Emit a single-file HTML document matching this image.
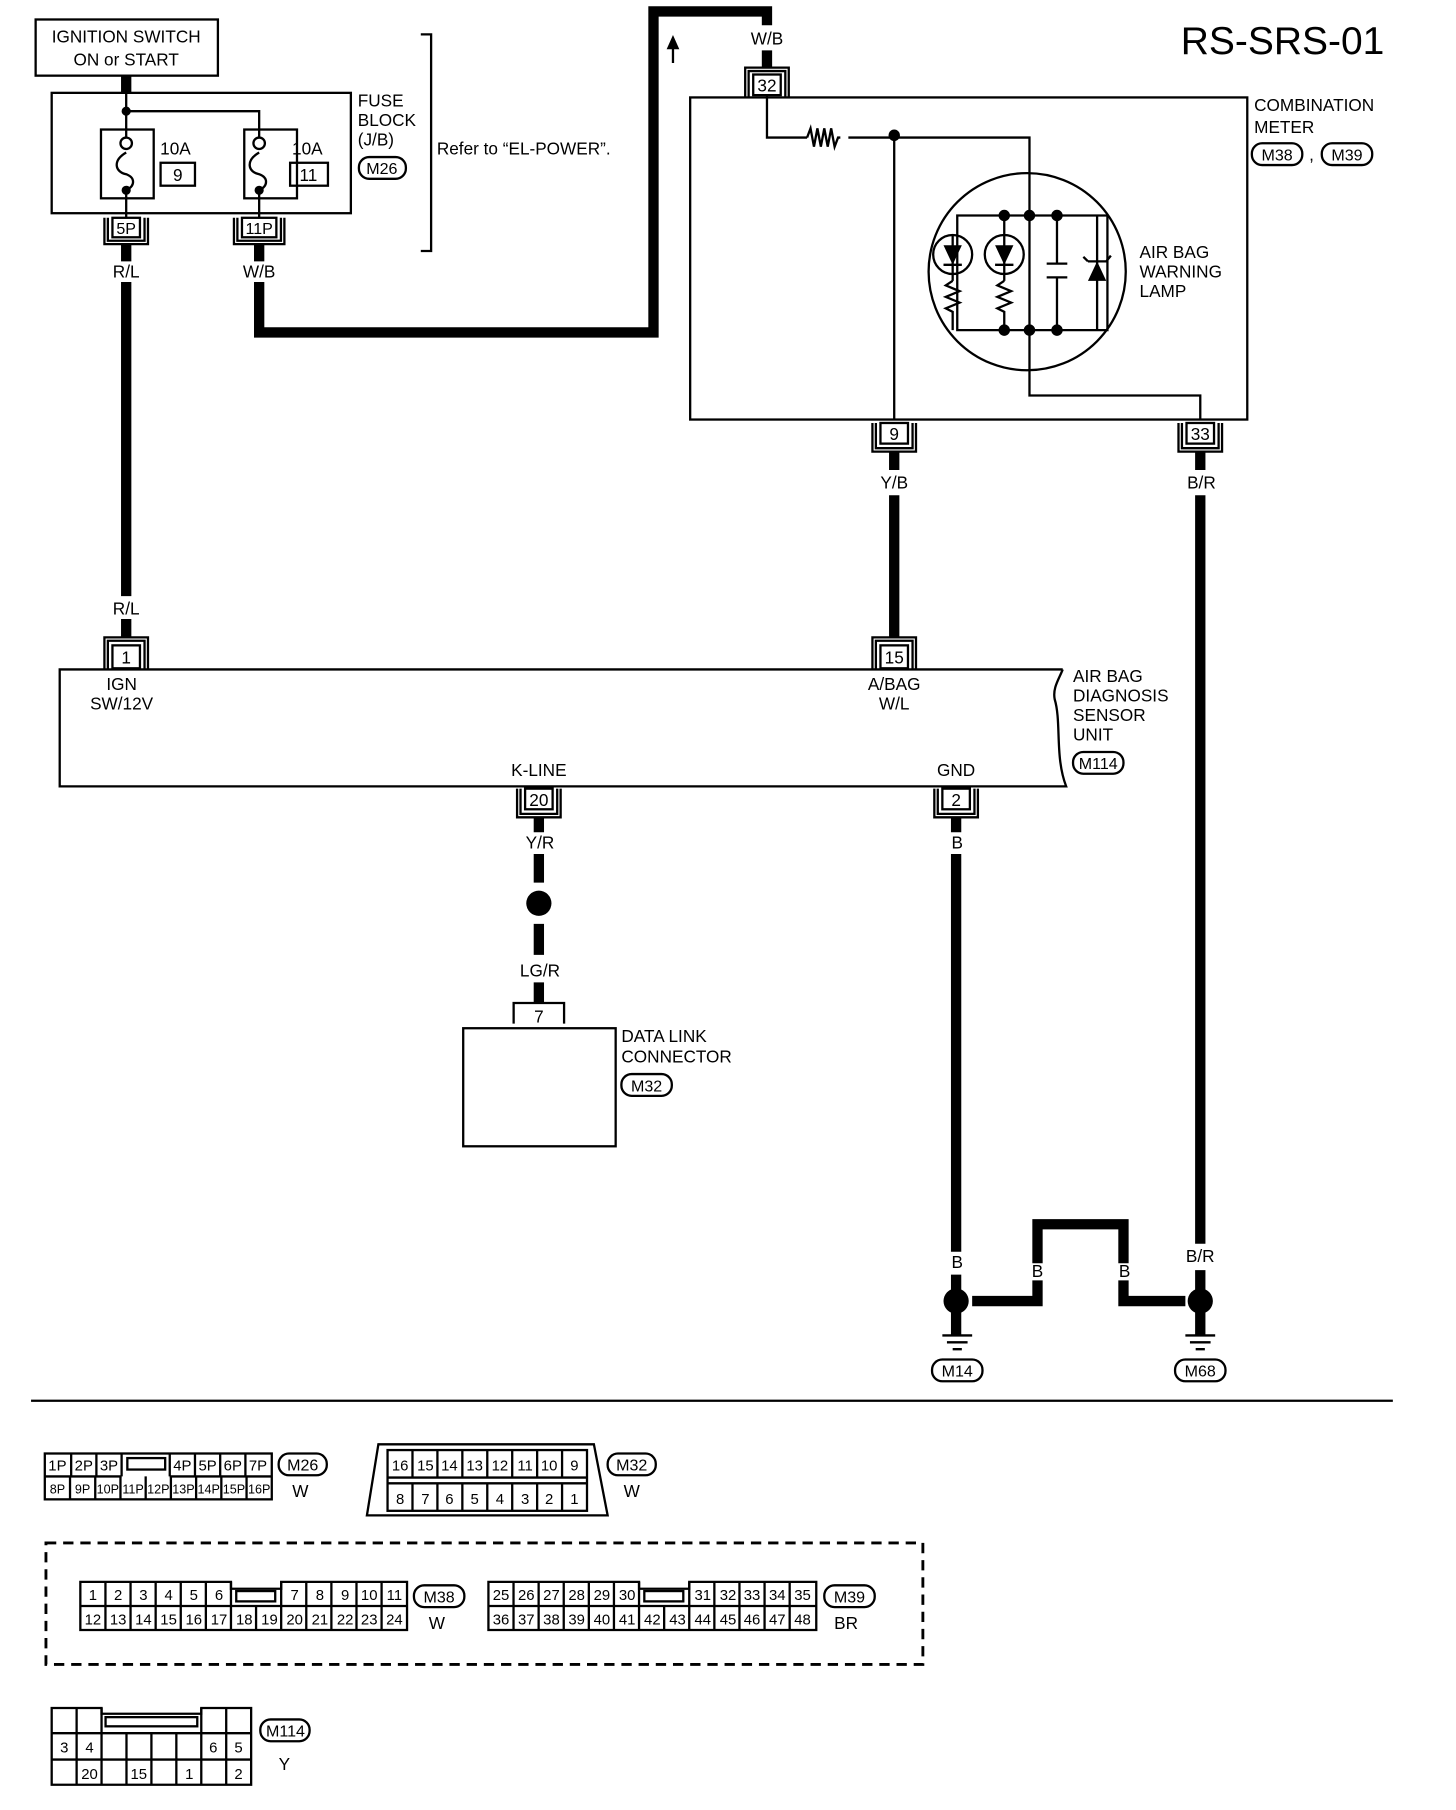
<!DOCTYPE html>
<html><head><meta charset="utf-8"><style>
html,body{margin:0;padding:0;background:#fff;}
svg{display:block;}
text{font-family:"Liberation Sans",sans-serif;fill:#000;}
</style></head><body>
<svg width="1456" height="1810" viewBox="0 0 1270 1579" xmlns="http://www.w3.org/2000/svg">
<g fill="none" stroke="#000" stroke-width="2">
<rect x="31" y="17" width="159" height="49"/>
<rect x="45" y="81" width="261" height="105"/>
<path d="M110 82 V113 M110 97 H226 V113"/>
<rect x="88" y="113" width="46" height="60"/>
<rect x="213" y="113" width="46" height="60"/>
<path d="M110 173 V190 M226 173 V190"/>
<path d="M110 113 V125 M110 133 C98 140 100 150 110 152 C118 155 118 162 110 166 V173"/>
<path d="M226 113 V125 M226 133 C214 140 216 150 226 152 C234 155 234 162 226 166 V173"/>
<rect x="140" y="142" width="30" height="20"/>
<rect x="253" y="142" width="33" height="20"/>
<path d="M367 30 H376 V219 H367"/>
<rect x="98" y="190" width="24" height="17"/>
<path d="M94 190 V210 H126 V190 M91 190 V213 H129 V190"/>
<rect x="211" y="190" width="30" height="17"/>
<path d="M207 190 V210 H245 V190 M204 190 V213 H248 V190"/>
<rect x="602" y="85" width="486" height="281"/>
<rect x="657" y="65" width="24" height="18"/>
<path d="M653 85 V62 H685 V85 M650 85 V59 H688 V85"/>
<path d="M669 83 V120 H704 M740 120 H898 V345 H1047 V366 M780 120 V366"/>
<path d="M704 120 l3 -8 l3 16 l3 -16 l3 16 l3 -16 l3 16 l3 -16 l3 16 l3 -8 l2 0" stroke-width="2"/>
<ellipse cx="896" cy="237" rx="86" ry="86"/>
<path d="M835 188 H966 V288 H835 Z M922 188 V230 M922 242 V288 M913 230 H931 M913 242 H931"/>
<circle cx="831" cy="222" r="17"/><circle cx="876" cy="222" r="17"/>
<path d="M831 205 V245 M876 188 V245 M823 231 H839 M868 231 H884"/>
<path d="M831 245 l-6 4 l12 5 l-12 5 l12 5 l-12 5 l6 3 V288 M876 245 l-6 4 l12 5 l-12 5 l12 5 l-12 5 l6 3 V288"/>
<path d="M957 188 V288 M949 228 l-4 -4 M949 228 H965 l4 -5"/>
<rect x="768" y="369" width="24" height="18"/>
<path d="M764 369 V391 H796 V369 M761 369 V394 H799 V369"/>
<rect x="1035" y="369" width="24" height="18"/>
<path d="M1031 369 V391 H1063 V369 M1028 369 V394 H1066 V369"/>
<path d="M927 584 H52 V686 H930 C920 660 926 630 920 610 C918 600 924 592 927 584"/>
<rect x="98" y="563" width="24" height="20"/>
<path d="M94 584 V559 H126 V584 M91 584 V556 H129 V584"/>
<rect x="768" y="563" width="24" height="20"/>
<path d="M764 584 V559 H796 V584 M761 584 V556 H799 V584"/>
<rect x="458" y="688" width="24" height="18"/>
<path d="M454 688 V710 H486 V688 M451 688 V713 H489 V688"/>
<rect x="822" y="688" width="24" height="18"/>
<path d="M818 688 V710 H850 V688 M815 688 V713 H853 V688"/>
<path d="M448 893 V875 H492 V893"/>
<rect x="404" y="897" width="133" height="103"/>
<path d="M822 1165 H848 M826 1171 H844 M831 1177 H839 M1034 1165 H1060 M1038 1171 H1056 M1043 1177 H1051"/>
<rect x="313" y="137" width="41" height="19" rx="9"/>
<rect x="1092" y="125" width="44" height="19" rx="9"/>
<rect x="1153" y="125" width="44" height="19" rx="9"/>
<rect x="936" y="656" width="44" height="19" rx="9"/>
<rect x="542" y="937" width="44" height="19" rx="9"/>
<rect x="813" y="1186" width="44" height="19" rx="9"/>
<rect x="1025" y="1186" width="44" height="19" rx="9"/>
<line x1="27" y1="1222" x2="1215" y2="1222"/>
</g>
<g fill="none" stroke="#000" stroke-width="9">
<path d="M110 66 V82"/>
<path d="M110 213 V228 M226 213 V228 M110 246 V520 M110 540 V556"/>
<path d="M226 246 V290 H570 V10 H669 V22 M669 44 V59"/>
<path d="M780 394 V410 M780 432 V556 M1047 394 V410 M1047 432 V1085"/>
<path d="M470 713 V726 M470 745 V770 M470 806 V833 M470 857 V875"/>
<path d="M834 713 V726 M834 745 V1092 M834 1112 V1125 M834 1145 V1165"/>
<path d="M848 1135 H905 V1117 M905 1102 V1068 H980 V1102 M980 1117 V1135 H1034"/>
<path d="M1047 1108 V1125 M1047 1145 V1165"/>
</g>
<g fill="#000" stroke="none">
<circle cx="110" cy="97" r="4"/><circle cx="110" cy="125" r="5" fill="#fff" stroke="#000" stroke-width="2"/><circle cx="110" cy="166" r="4"/>
<circle cx="226" cy="125" r="5" fill="#fff" stroke="#000" stroke-width="2"/><circle cx="226" cy="166" r="4"/>
<circle cx="780" cy="118" r="5"/>
<circle cx="876" cy="188" r="5"/><circle cx="898" cy="188" r="5"/><circle cx="922" cy="188" r="5"/>
<circle cx="876" cy="288" r="5"/><circle cx="898" cy="288" r="5"/><circle cx="922" cy="288" r="5"/>
<path d="M823 214 H839 L831 231 Z M868 214 H884 L876 231 Z M949 245 H965 L957 228 Z"/>
<circle cx="470" cy="788" r="11"/>
<circle cx="834" cy="1135" r="11"/><circle cx="1047" cy="1135" r="11"/>
<path d="M587 55 V42 M583 42 L587 33 L591 42 Z" stroke="#000" stroke-width="2"/>
</g>
<g font-size="15">
<text x="110" y="37" text-anchor="middle">IGNITION SWITCH</text>
<text x="110" y="57" text-anchor="middle">ON or START</text>
<text x="153" y="135" text-anchor="middle">10A</text>
<text x="155" y="158" text-anchor="middle">9</text>
<text x="268" y="135" text-anchor="middle">10A</text>
<text x="269" y="158" text-anchor="middle">11</text>
<text x="312" y="93">FUSE</text><text x="312" y="110">BLOCK</text><text x="312" y="127">(J/B)</text>
<text x="333" y="152" text-anchor="middle" font-size="14">M26</text>
<text x="381" y="135">Refer to “EL-POWER”.</text>
<text x="110" y="204" text-anchor="middle" font-size="14">5P</text>
<text x="226" y="204" text-anchor="middle" font-size="14">11P</text>
<text x="110" y="242" text-anchor="middle">R/L</text>
<text x="226" y="242" text-anchor="middle">W/B</text>
<text x="669" y="39" text-anchor="middle">W/B</text>
<text x="669" y="80" text-anchor="middle">32</text>
<text x="1030" y="47" font-size="34">RS-SRS-01</text>
<text x="1094" y="97">COMBINATION</text><text x="1094" y="116">METER</text>
<text x="1114" y="140" text-anchor="middle" font-size="14">M38</text>
<text x="1142" y="140">,</text>
<text x="1175" y="140" text-anchor="middle" font-size="14">M39</text>
<text x="994" y="225">AIR BAG</text><text x="994" y="242">WARNING</text><text x="994" y="259">LAMP</text>
<text x="780" y="384" text-anchor="middle">9</text>
<text x="1047" y="384" text-anchor="middle">33</text>
<text x="780" y="426" text-anchor="middle">Y/B</text>
<text x="1048" y="426" text-anchor="middle">B/R</text>
<text x="110" y="536" text-anchor="middle">R/L</text>
<text x="110" y="579" text-anchor="middle">1</text>
<text x="780" y="579" text-anchor="middle">15</text>
<text x="106" y="602" text-anchor="middle">IGN</text><text x="106" y="619" text-anchor="middle">SW/12V</text>
<text x="780" y="602" text-anchor="middle">A/BAG</text><text x="780" y="619" text-anchor="middle">W/L</text>
<text x="936" y="595">AIR BAG</text><text x="936" y="612">DIAGNOSIS</text><text x="936" y="629">SENSOR</text><text x="936" y="646">UNIT</text>
<text x="958" y="671" text-anchor="middle" font-size="14">M114</text>
<text x="470" y="677" text-anchor="middle">K-LINE</text>
<text x="834" y="677" text-anchor="middle">GND</text>
<text x="470" y="703" text-anchor="middle">20</text>
<text x="834" y="703" text-anchor="middle">2</text>
<text x="471" y="740" text-anchor="middle">Y/R</text>
<text x="835" y="740" text-anchor="middle">B</text>
<text x="471" y="852" text-anchor="middle">LG/R</text>
<text x="470" y="892" text-anchor="middle">7</text>
<text x="542" y="909">DATA LINK</text><text x="542" y="927">CONNECTOR</text>
<text x="564" y="952" text-anchor="middle" font-size="14">M32</text>
<text x="835" y="1106" text-anchor="middle">B</text>
<text x="905" y="1114" text-anchor="middle">B</text>
<text x="981" y="1114" text-anchor="middle">B</text>
<text x="1047" y="1101" text-anchor="middle">B/R</text>
<text x="835" y="1201" text-anchor="middle" font-size="14">M14</text>
<text x="1047" y="1201" text-anchor="middle" font-size="14">M68</text>
</g>
<g fill="none" stroke="#000" stroke-width="2">
<rect x="39" y="1268" width="198" height="40"/>
<path d="M39 1288 H106 M148 1288 H237 M62 1268 V1288 M84 1268 V1288 M106 1268 V1288 M148 1268 V1288 M170 1268 V1288 M192 1268 V1288 M214 1268 V1288"/>
<path d="M61 1288 V1308 M83 1288 V1308 M105 1288 V1308 M127 1288 V1308 M149 1288 V1308 M171 1288 V1308 M193 1288 V1308 M215 1288 V1308"/>
<rect x="111" y="1272" width="33" height="10"/>
<rect x="243" y="1268" width="42" height="19" rx="9"/>
<path d="M330 1260 H518 L530 1322 H320 Z"/>
<rect x="338" y="1265" width="174" height="53"/>
<path d="M338 1289 H512 M338 1294 H512"/>
<path d="M359.75 1265 V1289 M381.5 1265 V1289 M403.25 1265 V1289 M425 1265 V1289 M446.75 1265 V1289 M468.5 1265 V1289 M490.25 1265 V1289"/>
<path d="M359.75 1294 V1318 M381.5 1294 V1318 M403.25 1294 V1318 M425 1294 V1318 M446.75 1294 V1318 M468.5 1294 V1318 M490.25 1294 V1318"/>
<rect x="530" y="1268" width="42" height="19" rx="9"/>
<rect x="40" y="1346" width="765" height="106" stroke-dasharray="9 6" stroke-width="2.5"/>
<path d="M70 1380 H201.4 V1386 H245.2 V1380 H355 V1422 H70 Z M70 1401 H355"/>
<path d="M91.9 1380 V1422 M113.8 1380 V1422 M135.7 1380 V1422 M157.6 1380 V1422 M179.5 1380 V1422 M201.4 1380 V1422 M223.3 1401 V1422 M245.2 1380 V1422 M267.1 1380 V1422 M289 1380 V1422 M310.9 1380 V1422 M332.8 1380 V1422"/>
<rect x="206" y="1388" width="34" height="9"/>
<rect x="361" y="1383" width="44" height="19" rx="9"/>
<path d="M426 1380 H557.4 V1386 H601.2 V1380 H712 V1422 H426 Z M426 1401 H712"/>
<path d="M447.9 1380 V1422 M469.8 1380 V1422 M491.7 1380 V1422 M513.6 1380 V1422 M535.5 1380 V1422 M557.4 1380 V1422 M579.3 1401 V1422 M601.2 1380 V1422 M623.1 1380 V1422 M645 1380 V1422 M666.9 1380 V1422 M688.8 1380 V1422"/>
<rect x="562" y="1388" width="34" height="9"/>
<rect x="719" y="1383" width="44" height="19" rx="9"/>
<path d="M45 1490 H88.5 V1495 H175.5 V1490 H219 V1557 H45 Z M45 1512 H219 M45 1535 H219"/>
<path d="M66.75 1490 V1557 M88.5 1490 V1557 M110.25 1512 V1557 M132 1512 V1557 M153.75 1512 V1557 M175.5 1490 V1557 M197.25 1490 V1557"/>
<rect x="92" y="1498" width="80" height="8"/>
<rect x="227" y="1500" width="43" height="19" rx="9"/>
</g>
<g font-size="13" text-anchor="middle">
<text x="50" y="1283">1P</text><text x="73" y="1283">2P</text><text x="95" y="1283">3P</text><text x="159" y="1283">4P</text><text x="181" y="1283">5P</text><text x="203" y="1283">6P</text><text x="225" y="1283">7P</text>
<g font-size="11"><text x="50" y="1303">8P</text><text x="72" y="1303">9P</text><text x="94" y="1303">10P</text><text x="116" y="1303">11P</text><text x="138" y="1303">12P</text><text x="160" y="1303">13P</text><text x="182" y="1303">14P</text><text x="204" y="1303">15P</text><text x="226" y="1303">16P</text></g>
<text x="264" y="1283" font-size="14">M26</text><text x="262" y="1306" font-size="15">W</text>
<text x="349" y="1283">16</text><text x="371" y="1283">15</text><text x="392" y="1283">14</text><text x="414" y="1283">13</text><text x="436" y="1283">12</text><text x="458" y="1283">11</text><text x="479" y="1283">10</text><text x="501" y="1283">9</text>
<text x="349" y="1312">8</text><text x="371" y="1312">7</text><text x="392" y="1312">6</text><text x="414" y="1312">5</text><text x="436" y="1312">4</text><text x="458" y="1312">3</text><text x="479" y="1312">2</text><text x="501" y="1312">1</text>
<text x="551" y="1283" font-size="14">M32</text><text x="551" y="1306" font-size="15">W</text>
<text x="81" y="1396">1</text><text x="103" y="1396">2</text><text x="125" y="1396">3</text><text x="147" y="1396">4</text><text x="169" y="1396">5</text><text x="191" y="1396">6</text><text x="257" y="1396">7</text><text x="279" y="1396">8</text><text x="301" y="1396">9</text><text x="322" y="1396">10</text><text x="344" y="1396">11</text>
<text x="81" y="1417">12</text><text x="103" y="1417">13</text><text x="125" y="1417">14</text><text x="147" y="1417">15</text><text x="169" y="1417">16</text><text x="191" y="1417">17</text><text x="213" y="1417">18</text><text x="235" y="1417">19</text><text x="257" y="1417">20</text><text x="279" y="1417">21</text><text x="301" y="1417">22</text><text x="322" y="1417">23</text><text x="344" y="1417">24</text>
<text x="383" y="1398" font-size="14">M38</text><text x="381" y="1421" font-size="15">W</text>
<text x="437" y="1396">25</text><text x="459" y="1396">26</text><text x="481" y="1396">27</text><text x="503" y="1396">28</text><text x="525" y="1396">29</text><text x="547" y="1396">30</text><text x="613" y="1396">31</text><text x="635" y="1396">32</text><text x="656" y="1396">33</text><text x="678" y="1396">34</text><text x="700" y="1396">35</text>
<text x="437" y="1417">36</text><text x="459" y="1417">37</text><text x="481" y="1417">38</text><text x="503" y="1417">39</text><text x="525" y="1417">40</text><text x="547" y="1417">41</text><text x="569" y="1417">42</text><text x="591" y="1417">43</text><text x="613" y="1417">44</text><text x="635" y="1417">45</text><text x="656" y="1417">46</text><text x="678" y="1417">47</text><text x="700" y="1417">48</text>
<text x="741" y="1398" font-size="14">M39</text><text x="738" y="1421" font-size="15">BR</text>
<text x="56" y="1529">3</text><text x="78" y="1529">4</text><text x="186" y="1529">6</text><text x="208" y="1529">5</text>
<text x="78" y="1552">20</text><text x="121" y="1552">15</text><text x="165" y="1552">1</text><text x="208" y="1552">2</text>
<text x="249" y="1515" font-size="14">M114</text><text x="248" y="1544" font-size="15">Y</text>
</g>
</svg>
</body></html>
